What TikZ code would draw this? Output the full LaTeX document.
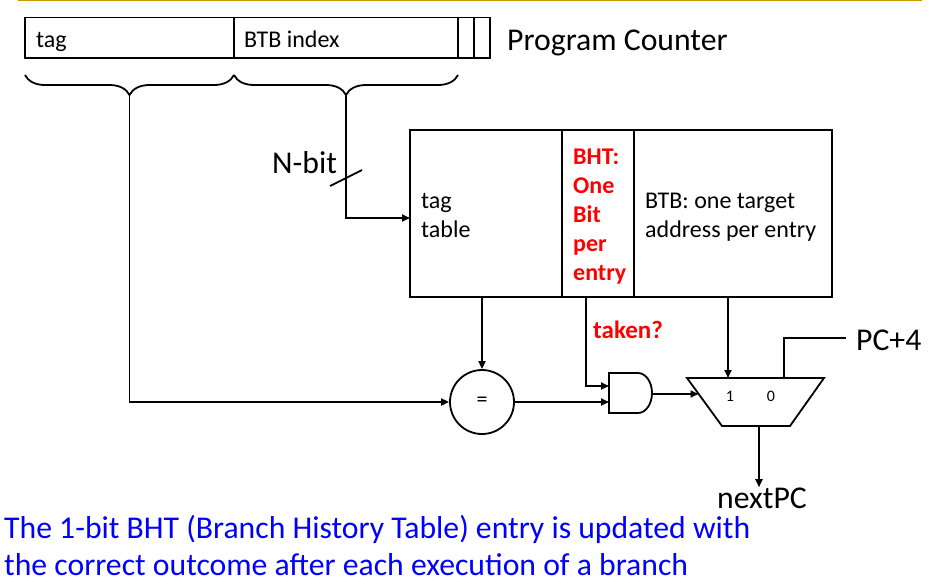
\documentclass[tikz,border=0pt]{standalone}
\usepackage{fontspec}
\setmainfont{Carlito}
\usepackage{xcolor}
\definecolor{gold}{RGB}{204,153,0}
\definecolor{bhtred}{RGB}{255,0,0}
\definecolor{noteblue}{RGB}{0,0,255}
\usepackage{tikz}
\usetikzlibrary{arrows.meta,positioning,decorations.pathreplacing}

\begin{document}
\begin{tikzpicture}[
  x=1pt, y=-1pt,
  wire/.style={line width=1.8pt},
  flow/.style={wire, -{Triangle[length=8pt,width=7pt]}},
  regbox/.style={draw, line width=1.8pt, inner sep=0pt},
  smalltxt/.style={font=\fontsize{24}{28.5}\selectfont, inner sep=0pt, align=left},
  bigtxt/.style={font=\fontsize{31.7}{38}\selectfont, inner sep=0pt, align=left},
  tinytxt/.style={font=\fontsize{16}{18}\selectfont, inner sep=0pt},
  fieldbrace/.style={wire, decorate, decoration={brace, mirror, amplitude=20pt}}
]
\useasboundingbox (0,0) rectangle (929,584);
\draw[gold, line width=1.2pt] (18,0.6) -- (922,0.6);

% program counter register
\node[regbox, minimum width=465pt, minimum height=40.5pt] (pc) at (257.5,37.75) {};
\draw[wire] (234,17.5) -- (234,58);
\draw[wire] (458,17.5) -- (458,58);
\draw[wire] (474,17.5) -- (474,58);
\node[smalltxt, anchor=base west] (tagfield) at (36,47) {tag};
\node[smalltxt, anchor=base west] (idxfield) at (244,47) {BTB index};
\node[bigtxt, anchor=base west] (pclabel) at (507,50) {Program Counter};

% braces under the fields
\draw[fieldbrace] (25,75) -- (234,75);
\draw[fieldbrace] (234,75) -- (458,75);
\coordinate (tagtip) at (129.5,95);
\coordinate (idxtip) at (346,95);

% tag / BHT / BTB table
\node[regbox, minimum width=422pt, minimum height=167pt] (tbl) at (621,213.5) {};
\draw[wire] (562,130) -- (562,297);
\draw[wire] (634,130) -- (634,297);
\node[smalltxt, anchor=base west] (tagtbl) at (421,237) {tag\\table};
\node[smalltxt, anchor=base west, text=bhtred, font=\fontsize{24}{29}\selectfont\bfseries] (bht) at (573,280) {BHT:\\One\\Bit\\per\\entry};
\node[smalltxt, anchor=base west] (btb) at (645,237) {BTB: one target\\address per entry};
\coordinate (tblin) at (410,218);

% index bus
\node[bigtxt, anchor=base west] (nbit) at (272,173) {N-bit};
\draw[wire] (330,186) -- (362,170);
\draw[flow] (idxtip) |- (tblin);

% comparator
\node[draw, wire, circle, minimum size=64pt, inner sep=0pt, font=\fontsize{22}{24}\selectfont] (eq) at (482,402) {=};
\draw[flow] (eq.north |- tbl.south) -- (eq.north);
\draw[flow] (tagtip) |- (eq.west);

% and gate
\draw[wire] (609,373) -- (638,373) arc[start angle=-90, end angle=90, x radius=14, y radius=20] -- (609,413) -- cycle;
\coordinate (andin1) at (609,386);
\coordinate (andin2) at (609,402);
\coordinate (andout) at (652,394);
\coordinate (bhtout) at (586,297);
\node[anchor=base west, inner sep=0pt, text=bhtred, font=\fontsize{25}{30}\selectfont\bfseries] (taken) at (593,338) {taken?};
\draw[flow] (bhtout) |- (andin1);
\draw[flow] (eq.east) -- (andin2);

% next pc mux
\draw[wire] (687,378) -- (824,378) -- (790,426) -- (722,426) -- cycle;
\coordinate (muxin) at (698.5,394);
\coordinate (muxone) at (728,378);
\coordinate (muxzero) at (784,378);
\coordinate (muxout) at (759,426);
\coordinate (btbout) at (728,297);
\node[tinytxt] (sel1) at (730,396) {1};
\node[tinytxt] (sel0) at (771,396) {0};
\draw[flow] (andout) -- (muxin);
\draw[flow] (btbout) -- (muxone);
\node[bigtxt, anchor=west] (pc4) at (856,340) {PC+4};
\draw[wire] ([xshift=-10pt]pc4.west |- 0,338) -| (muxzero);
\node[bigtxt, anchor=base] (nextpc) at (762,508) {nextPC};
\draw[flow] (muxout) -- (muxout |- nextpc.north);

% note
\node[bigtxt, anchor=base west, text=noteblue, font=\fontsize{31.7}{37}\selectfont] (note) at (4,575) {The 1-bit BHT (Branch History Table) entry is updated with\\the correct outcome after each execution of a branch};
\end{tikzpicture}
\end{document}
